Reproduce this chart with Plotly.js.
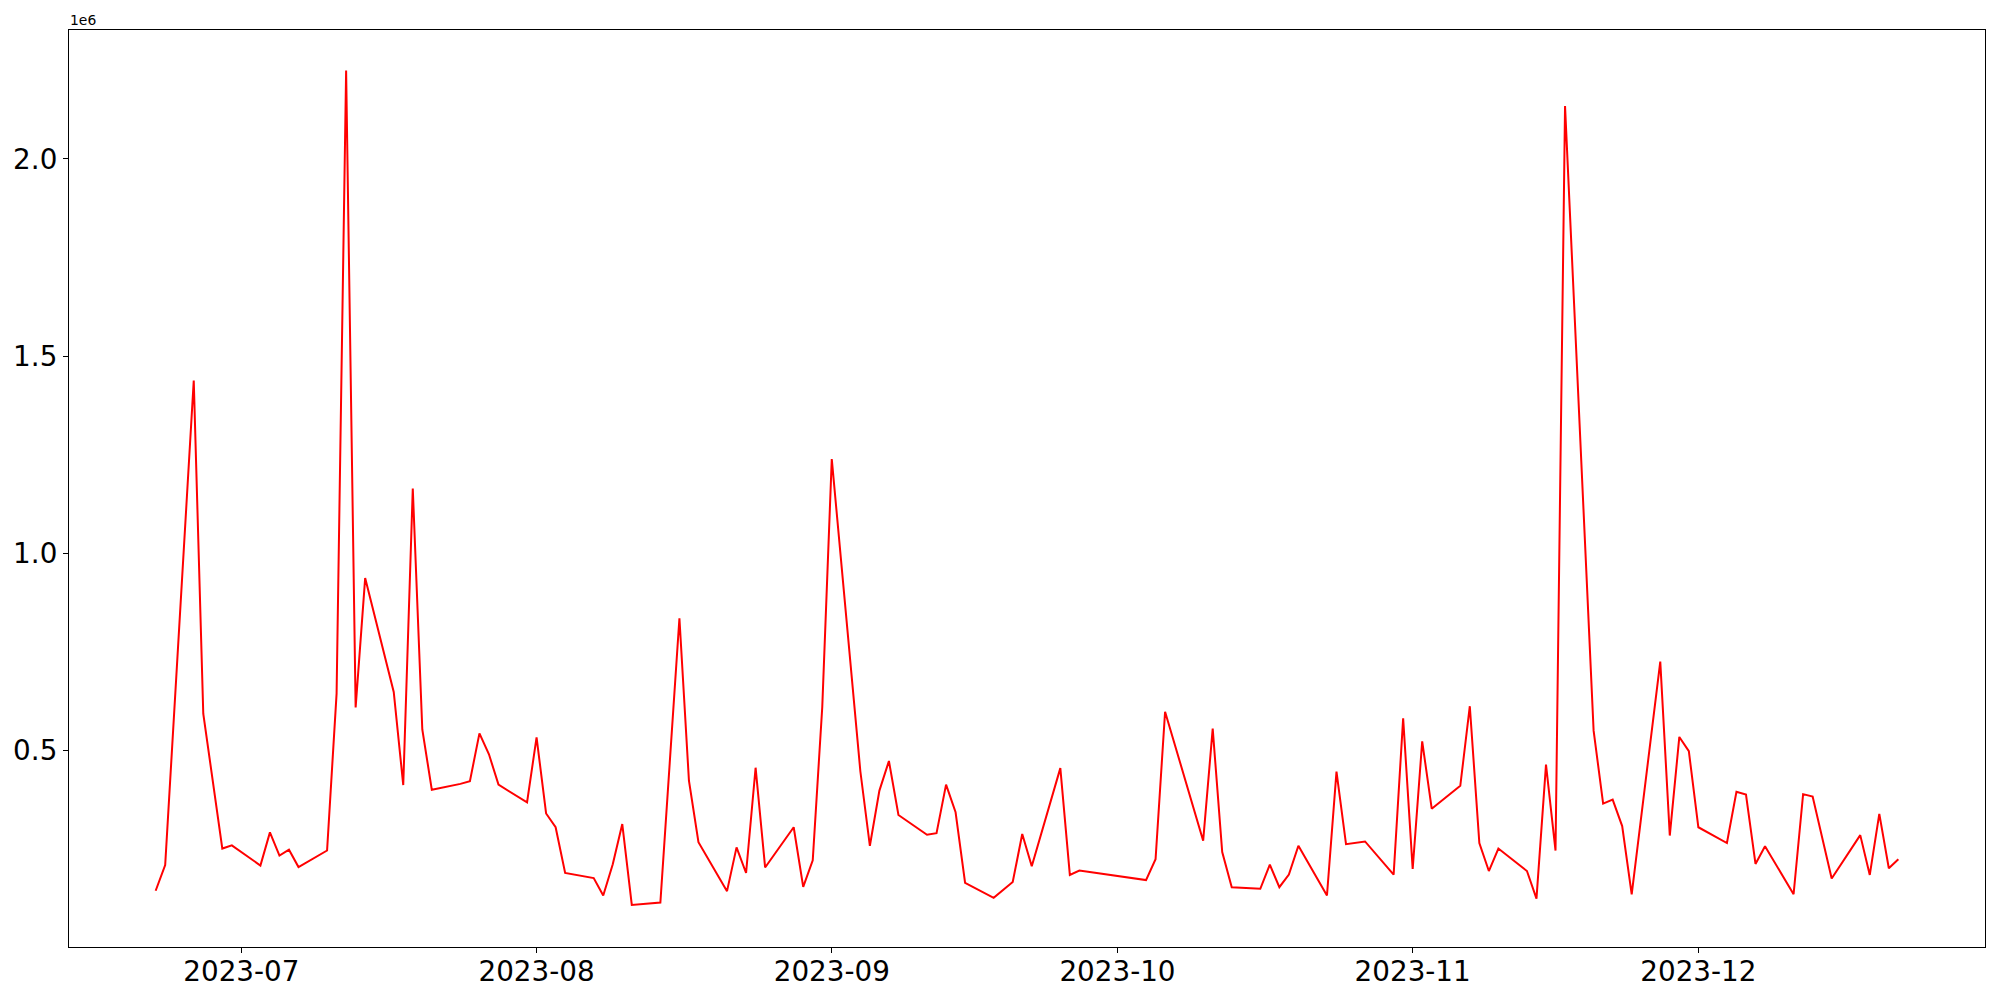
<!DOCTYPE html>
<html>
<head>
<meta charset="utf-8">
<script src="https://cdn.plot.ly/plotly-3.0.1.min.js"></script>
<style>
  html, body { margin: 0; padding: 0; background: #ffffff; }
  #chart { width: 2000px; height: 1000px; }
</style>
</head>
<body>
<div id="chart"></div>
<script>
// ---- data (values in units of 1e6) ----
const dates = [
  "2023-06-22","2023-06-23","2023-06-26","2023-06-27","2023-06-29","2023-06-30",
  "2023-07-03","2023-07-04","2023-07-05","2023-07-06","2023-07-07",
  "2023-07-10","2023-07-11","2023-07-12","2023-07-13","2023-07-14",
  "2023-07-17","2023-07-18","2023-07-19","2023-07-20","2023-07-21",
  "2023-07-24","2023-07-25","2023-07-26","2023-07-27","2023-07-28",
  "2023-07-31","2023-08-01","2023-08-02","2023-08-03","2023-08-04",
  "2023-08-07","2023-08-08","2023-08-09","2023-08-10","2023-08-11",
  "2023-08-14","2023-08-16","2023-08-17","2023-08-18",
  "2023-08-21","2023-08-22","2023-08-23","2023-08-24","2023-08-25",
  "2023-08-28","2023-08-29","2023-08-30","2023-08-31","2023-09-01",
  "2023-09-04","2023-09-05","2023-09-06","2023-09-07","2023-09-08",
  "2023-09-11","2023-09-12","2023-09-13","2023-09-14","2023-09-15",
  "2023-09-18","2023-09-20","2023-09-21","2023-09-22",
  "2023-09-25","2023-09-26","2023-09-27",
  "2023-10-04","2023-10-05","2023-10-06",
  "2023-10-10","2023-10-11","2023-10-12","2023-10-13",
  "2023-10-16","2023-10-17","2023-10-18","2023-10-19","2023-10-20",
  "2023-10-23","2023-10-24","2023-10-25","2023-10-27",
  "2023-10-30","2023-10-31","2023-11-01","2023-11-02","2023-11-03",
  "2023-11-06","2023-11-07","2023-11-08","2023-11-09","2023-11-10",
  "2023-11-13","2023-11-14","2023-11-15","2023-11-16","2023-11-17",
  "2023-11-20","2023-11-21","2023-11-22","2023-11-23","2023-11-24",
  "2023-11-27","2023-11-28","2023-11-29","2023-11-30","2023-12-01",
  "2023-12-04","2023-12-05","2023-12-06","2023-12-07","2023-12-08",
  "2023-12-11","2023-12-12","2023-12-13","2023-12-15",
  "2023-12-18","2023-12-19","2023-12-20","2023-12-21","2023-12-22"
];
const valuesMillions = [
  0.144, 0.209, 1.438, 0.593, 0.251, 0.259,
  0.208, 0.292, 0.233, 0.248, 0.204,
  0.246, 0.644, 2.224, 0.609, 0.937,
  0.648, 0.412, 1.164, 0.553, 0.400,
  0.415, 0.422, 0.543, 0.490, 0.413,
  0.368, 0.533, 0.340, 0.305, 0.189,
  0.176, 0.132, 0.211, 0.313, 0.108,
  0.114, 0.835, 0.423, 0.267,
  0.143, 0.254, 0.189, 0.456, 0.203,
  0.305, 0.154, 0.221, 0.610, 1.239,
  0.447, 0.258, 0.398, 0.473, 0.336,
  0.286, 0.290, 0.413, 0.343, 0.164,
  0.126, 0.166, 0.288, 0.206,
  0.455, 0.184, 0.195,
  0.171, 0.224, 0.598,
  0.271, 0.555, 0.242, 0.153,
  0.149, 0.210, 0.153, 0.185, 0.258,
  0.132, 0.446, 0.262, 0.269,
  0.185, 0.581, 0.199, 0.523, 0.352,
  0.410, 0.612, 0.265, 0.194, 0.251,
  0.194, 0.124, 0.464, 0.246, 2.134,
  0.550, 0.365, 0.375, 0.308, 0.135,
  0.725, 0.284, 0.534, 0.498, 0.305,
  0.265, 0.395, 0.388, 0.212, 0.257,
  0.135, 0.389, 0.383, 0.175,
  0.285, 0.184, 0.339, 0.201, 0.224
];
const scale = 1e6;
const xTickVals = ["2023-07-01","2023-08-01","2023-09-01","2023-10-01","2023-11-01","2023-12-01"];
const xTickText = ["2023-07","2023-08","2023-09","2023-10","2023-11","2023-12"];
const yTickVals = [0.5e6, 1.0e6, 1.5e6, 2.0e6];
const yTickText = ["0.5","1.0","1.5","2.0"];
const offsetLabel = "1e6";

const yValues = valuesMillions.map(v => v * scale);

const trace = {
  x: dates,
  y: yValues,
  type: "scatter",
  mode: "lines",
  line: { color: "#ff0000", width: 2 },
  hoverinfo: "x+y"
};

const font = "DejaVu Sans, sans-serif";

const layout = {
  width: 2000,
  height: 1000,
  paper_bgcolor: "#ffffff",
  plot_bgcolor: "#ffffff",
  showlegend: false,
  margin: { l: 69.3, r: 14.7, t: 30.3, b: 52.7, pad: 0 },
  xaxis: {
    type: "date",
    range: ["2023-06-12 21:36", "2023-12-31 02:24"],
    tickmode: "array",
    tickvals: xTickVals,
    ticktext: xTickText,
    ticks: "outside",
    ticklen: 5,
    tickwidth: 1.1,
    tickcolor: "#000000",
    ticklabelstandoff: -5,
    showgrid: false,
    zeroline: false,
    showline: true,
    linecolor: "#000000",
    linewidth: 1.1,
    mirror: true,
    tickfont: { family: font, size: 27.8, color: "#000000" }
  },
  yaxis: {
    range: [0.0013e6, 2.327e6],
    tickmode: "array",
    tickvals: yTickVals,
    ticktext: yTickText,
    ticks: "outside",
    ticklen: 5,
    tickwidth: 1.1,
    tickcolor: "#000000",
    showgrid: false,
    zeroline: false,
    showline: true,
    linecolor: "#000000",
    linewidth: 1.1,
    mirror: true,
    tickfont: { family: font, size: 27.8, color: "#000000" }
  },
  annotations: [{
    text: offsetLabel,
    xref: "paper", yref: "paper",
    x: 0, y: 1,
    xanchor: "left", yanchor: "bottom",
    showarrow: false,
    borderpad: 0,
    yshift: 1,
    font: { family: font, size: 13.9, color: "#000000" }
  }]
};

Plotly.newPlot("chart", [trace], layout, { staticPlot: true, displayModeBar: false });
</script>
</body>
</html>
